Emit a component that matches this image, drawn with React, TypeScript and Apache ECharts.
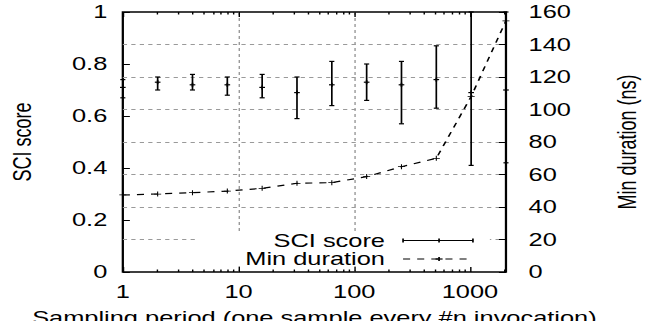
import React, { useEffect, useRef } from "react";
import * as echarts from "echarts";

// Sampling periods (one sample every #n invocation)
const periods = [1, 2, 4, 8, 16, 32, 64, 128, 256, 512, 1024, 2048];
// SCI score (mean, lower and upper end of error bar)
const sciMean = [0.71, 0.73, 0.72, 0.72, 0.71, 0.69, 0.72, 0.73, 0.72, 0.74, 0.69, 0.7];
const sciLow = [0.67, 0.7, 0.7, 0.68, 0.67, 0.59, 0.64, 0.66, 0.57, 0.63, 0.41, 0.42];
const sciHigh = [0.74, 0.75, 0.76, 0.75, 0.76, 0.75, 0.81, 0.8, 0.81, 0.87, 1.0, 1.0];
// Min duration (ns)
const minDuration = [47.4, 48, 48.8, 49.8, 51.5, 54.6, 55, 58.7, 64.8, 70, 108, 154.6];
// Axis ticks
const xMajorTicks = [1, 10, 100, 1000];
const xMinorTicks = [2, 3, 4, 5, 6, 7, 8, 9, 20, 30, 40, 50, 60, 70, 80, 90, 200, 300, 400, 500, 600, 700, 800, 900, 2000];

const FONT = '"Liberation Sans", Arial, Helvetica, sans-serif';
const LOGICAL_W = 459;
const H = 321;
const SCALE_X = 648 / LOGICAL_W;

export default function App() {
  const ref = useRef<HTMLDivElement>(null);
  useEffect(() => {
    if (!ref.current) return;
    const chart = echarts.init(ref.current, undefined, { renderer: "svg" });
    const tickLine = { color: "#000", width: 1 };
    const gridDash = { color: "#9a9a9a", width: 1, type: [3, 3] as any };
    const labelStyle = { fontFamily: FONT, fontSize: 18, color: "#000" };
    const plus = "path://M-0.45,-3H0.45V3H-0.45Z M-3,-0.45H3V0.45H-3Z";
    const option: any = {
      animation: false,
      textStyle: { fontFamily: FONT },
      grid: {
        left: 87,
        right: 100.6,
        top: 12,
        bottom: 49,
        outerBoundsMode: "none",
        containLabel: false,
        show: true,
        borderColor: "#000",
        borderWidth: 1.6,
        backgroundColor: "transparent",
      },
      xAxis: [
        {
          type: "log",
          logBase: 10,
          min: 1,
          max: 2048,
          position: "bottom",
          axisLine: { show: false },
          axisTick: { inside: true, length: 5, lineStyle: tickLine, customValues: xMajorTicks },
          axisLabel: { ...labelStyle, margin: 11, customValues: xMajorTicks, formatter: (v: number) => String(Math.round(v)) },
          splitLine: { show: true, lineStyle: gridDash, showMinLine: false, showMaxLine: false },
          name: "Sampling period (one sample every #n invocation)",
          nameLocation: "middle",
          nameGap: 37,
          nameTextStyle: { ...labelStyle },
        },
        {
          type: "log",
          logBase: 10,
          min: 1,
          max: 2048,
          position: "bottom",
          axisLine: { show: false },
          axisTick: { inside: true, length: 2.5, lineStyle: tickLine, customValues: xMinorTicks },
          axisLabel: { show: false },
          splitLine: { show: false },
        },
        {
          type: "log",
          logBase: 10,
          min: 1,
          max: 2048,
          position: "top",
          axisLine: { show: false },
          axisTick: { inside: true, length: 5, lineStyle: tickLine, customValues: xMajorTicks },
          axisLabel: { show: false },
          splitLine: { show: false },
        },
        {
          type: "log",
          logBase: 10,
          min: 1,
          max: 2048,
          position: "top",
          axisLine: { show: false },
          axisTick: { inside: true, length: 2.5, lineStyle: tickLine, customValues: xMinorTicks },
          axisLabel: { show: false },
          splitLine: { show: false },
        },
      ],
      yAxis: [
        {
          type: "value",
          min: 0,
          max: 1,
          interval: 0.2,
          position: "left",
          axisLine: { show: false },
          axisTick: { inside: true, length: 5, lineStyle: tickLine },
          axisLabel: { ...labelStyle, margin: 11 },
          splitLine: { show: false },
          name: "SCI score",
          nameLocation: "middle",
          nameRotate: 90,
          nameGap: 62,
          nameTextStyle: { ...labelStyle },
        },
        {
          type: "value",
          min: 0,
          max: 160,
          interval: 20,
          position: "right",
          axisLine: { show: false },
          axisTick: { inside: true, length: 5, lineStyle: tickLine },
          axisLabel: { ...labelStyle, margin: 16 },
          splitLine: { show: true, lineStyle: gridDash, showMinLine: false, showMaxLine: false },
          name: "Min duration (ns)",
          nameLocation: "middle",
          nameRotate: 90,
          nameGap: 77,
          nameTextStyle: { ...labelStyle },
        },
      ],
      graphic: [
        {
          type: "rect",
          z: 1,
          shape: { x: 139.5, y: 231, width: 207.5, height: 35 },
          style: { fill: "#fff" },
        },
        {
          type: "text",
          z: 2,
          style: { text: "SCI score", x: 272.7, y: 240.5, textAlign: "right", textVerticalAlign: "middle", font: `18px ${FONT}`, fill: "#000" },
        },
        {
          type: "text",
          z: 2,
          style: { text: "Min duration", x: 272.7, y: 259, textAlign: "right", textVerticalAlign: "middle", font: `18px ${FONT}`, fill: "#000" },
        },
        { type: "line", z: 2, shape: { x1: 285.5, y1: 240.5, x2: 335, y2: 240.5 }, style: { stroke: "#000", lineWidth: 1.2 } },
        { type: "line", z: 2, shape: { x1: 285.5, y1: 238.5, x2: 285.5, y2: 242.5 }, style: { stroke: "#000", lineWidth: 1.2 } },
        { type: "line", z: 2, shape: { x1: 335, y1: 238.5, x2: 335, y2: 242.5 }, style: { stroke: "#000", lineWidth: 1.2 } },
        { type: "line", z: 2, shape: { x1: 311, y1: 238.5, x2: 311, y2: 242.5 }, style: { stroke: "#000", lineWidth: 1.2 } },
        { type: "line", z: 2, shape: { x1: 285.5, y1: 259, x2: 335, y2: 259 }, style: { stroke: "#000", lineWidth: 1.2, lineDash: [5, 5] } },
        { type: "line", z: 2, shape: { x1: 311, y1: 257, x2: 311, y2: 261 }, style: { stroke: "#000", lineWidth: 1.2 } },
        { type: "line", z: 2, shape: { x1: 308.5, y1: 259, x2: 313.5, y2: 259 }, style: { stroke: "#000", lineWidth: 1.2 } },
      ],
      series: [
        {
          type: "custom",
          name: "SCI score",
          xAxisIndex: 0,
          yAxisIndex: 0,
          data: periods.map((p, i) => [p, sciMean[i], sciLow[i], sciHigh[i]]),
          encode: { x: 0, y: [1, 2, 3] },
          z: 3,
          renderItem: (params: any, api: any) => {
            const x = api.value(0);
            const c = api.coord([x, api.value(1)]);
            const lo = api.coord([x, api.value(2)]);
            const hi = api.coord([x, api.value(3)]);
            const cap = 1.8;
            const m = 2;
            const style = { stroke: "#000", lineWidth: 1.2, fill: "none" };
            return {
              type: "group",
              children: [
                { type: "line", shape: { x1: lo[0], y1: lo[1], x2: hi[0], y2: hi[1] }, style },
                { type: "line", shape: { x1: lo[0] - cap, y1: lo[1], x2: lo[0] + cap, y2: lo[1] }, style },
                { type: "line", shape: { x1: hi[0] - cap, y1: hi[1], x2: hi[0] + cap, y2: hi[1] }, style },
                { type: "line", shape: { x1: c[0] - m, y1: c[1], x2: c[0] + m, y2: c[1] }, style },
                { type: "line", shape: { x1: c[0], y1: c[1] - m, x2: c[0], y2: c[1] + m }, style },
              ],
            };
          },
        },
        {
          type: "line",
          name: "Min duration",
          xAxisIndex: 0,
          yAxisIndex: 1,
          data: periods.map((p, i) => [p, minDuration[i]]),
          symbol: plus,
          symbolSize: 5,
          showSymbol: true,
          itemStyle: { color: "#000", borderWidth: 0 },
          lineStyle: { color: "#000", width: 1.2, type: [5, 5] },
          z: 3,
        },
      ],
    };
    chart.setOption(option);
    return () => chart.dispose();
  }, []);
  return (
    <div
      ref={ref}
      style={{
        position: "fixed",
        left: 0,
        top: 0,
        width: LOGICAL_W,
        height: H,
        transform: `scaleX(${SCALE_X})`,
        transformOrigin: "0 0",
        background: "#fff",
      }}
    />
  );
}
